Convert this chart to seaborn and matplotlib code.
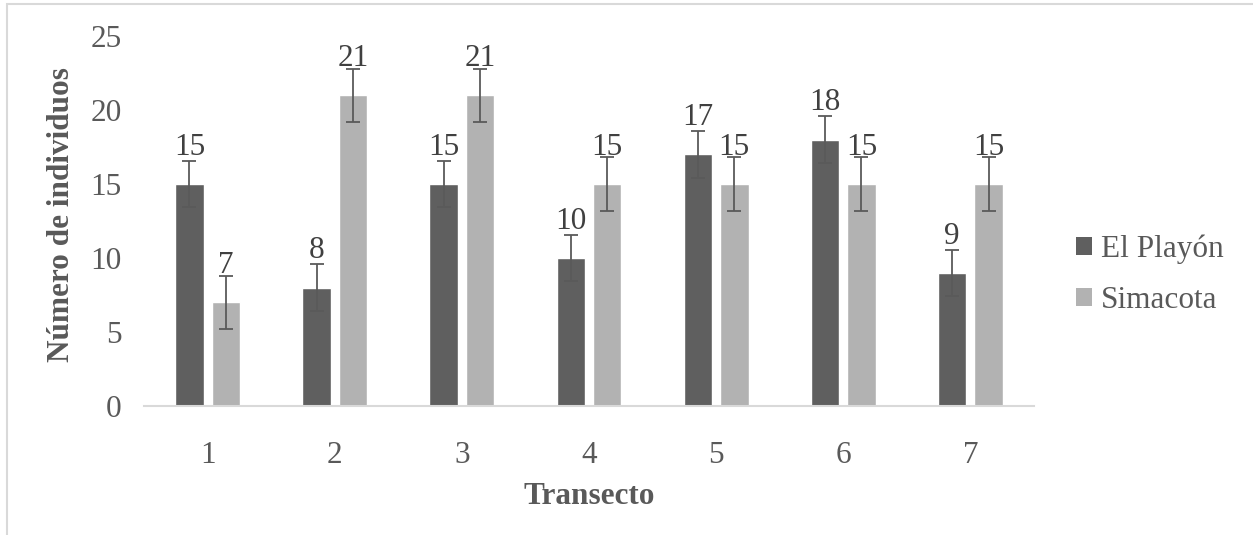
import matplotlib
matplotlib.use("Agg")
import matplotlib.pyplot as plt
import seaborn as sns
import pandas as pd
from matplotlib.patches import Rectangle, Patch

transectos = ["1", "2", "3", "4", "5", "6", "7"]
el_playon = [15, 8, 15, 10, 17, 18, 9]
simacota = [7, 21, 21, 15, 15, 15, 15]
err_playon = [1.57, 1.57, 1.57, 1.57, 1.57, 1.57, 1.57]
err_simacota = [1.8, 1.8, 1.8, 1.8, 1.8, 1.8, 1.8]
series = ["El Playón", "Simacota"]
colors = ["#5f5f5f", "#b2b2b2"]
yticks = [0, 5, 10, 15, 20, 25]

df = pd.DataFrame({
    "Transecto": transectos * 2,
    "valor": el_playon + simacota,
    "serie": [series[0]] * 7 + [series[1]] * 7,
})

sns.set_style("white")
plt.rcParams["font.family"] = ["Liberation Serif", "DejaVu Serif"]

FS = 22.5
W, H = 1253, 535
fig = plt.figure(figsize=(W / 100, H / 100), dpi=100)
ax = fig.add_axes([144 / W, (H - 406) / H, 890 / W, 370 / H])

sns.barplot(data=df, x="Transecto", y="valor", hue="serie", order=transectos,
            hue_order=series, palette=colors, width=0.572, gap=0.22,
            errorbar=None, ax=ax, legend=False, saturation=1)

vals = [el_playon, simacota]
errs = [err_playon, err_simacota]
bar_containers = list(ax.containers)
for k, cont in enumerate(bar_containers):
    xs = [p.get_x() + p.get_width() / 2 for p in cont.patches]
    ax.errorbar(xs, vals[k], yerr=errs[k], fmt="none", ecolor="#5a5a5a",
                elinewidth=1.3, capsize=4.7, capthick=1.3, zorder=5)
    for x, v in zip(xs, vals[k]):
        ax.annotate(str(v), (x, v), xytext=(0, 21), textcoords="offset points",
                    ha="center", va="baseline", fontsize=FS, color="#404040")

ax.set_ylim(0, 25)
ax.set_xlim(-0.5, 6.5)
ax.set_yticks(yticks)
ax.set_yticklabels([str(t) for t in yticks])
ax.tick_params(axis="both", length=0, labelsize=FS, labelcolor="#595959")
ax.tick_params(axis="x", pad=25)
ax.tick_params(axis="y", pad=16)
for s in ["top", "right", "left"]:
    ax.spines[s].set_visible(False)
ax.spines["bottom"].set_color("#d9d9d9")
ax.spines["bottom"].set_linewidth(1.5)
ax.grid(False)

ax.set_xlabel("Transecto", fontsize=FS, fontweight="bold", color="#595959")
ax.set_ylabel("Número de individuos", fontsize=FS, fontweight="bold", color="#595959")
ax.xaxis.set_label_coords(589 / W, 1 - 497 / H, transform=fig.transFigure)
ax.xaxis.label.set_va("center")
ax.yaxis.set_label_coords(62 / W, 1 - 215 / H, transform=fig.transFigure)
ax.yaxis.label.set_va("center")

handles = [Patch(facecolor=c, edgecolor="none") for c in colors]
leg = fig.legend(handles, series, loc="center left",
                 bbox_to_anchor=(1048 / W, 1 - 275 / H), frameon=False,
                 fontsize=FS, handlelength=0.5, handleheight=0.5,
                 handletextpad=0.3, labelspacing=0.7)
for t in leg.get_texts():
    t.set_color("#595959")

fig.patches.append(Rectangle((7 / W, -0.1), 1.2, 1 - 4 / H + 0.1,
                             transform=fig.transFigure, fill=False,
                             edgecolor="#d9d9d9", linewidth=1.5, zorder=0))

fig.savefig("out.png", dpi=100)
